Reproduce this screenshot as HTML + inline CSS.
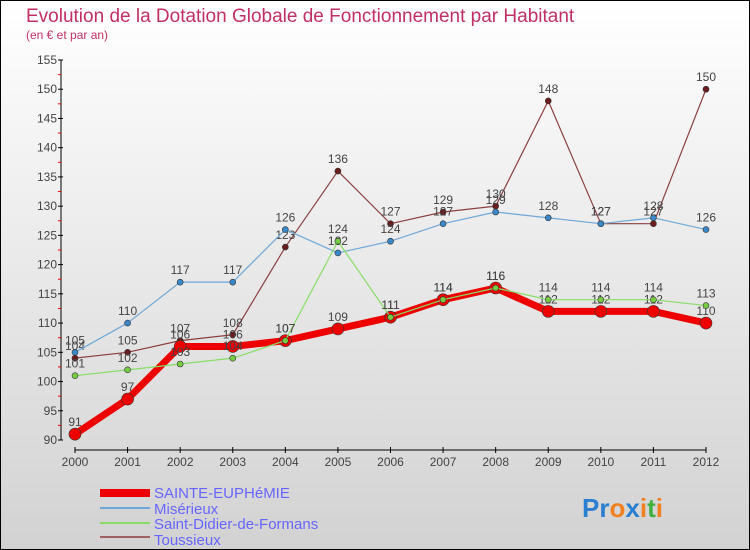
<!DOCTYPE html>
<html><head><meta charset="utf-8"><style>
body{margin:0;}
svg{display:block;font-family:"Liberation Sans",sans-serif;}
</style></head><body>
<svg id="c" width="750" height="550">
<defs><linearGradient id="bg" x1="0" y1="0" x2="0" y2="1"><stop offset="0" stop-color="#ffffff"/><stop offset="1" stop-color="#d2d2d2"/></linearGradient></defs>
<rect x="0.5" y="0.5" width="749" height="549" fill="url(#bg)" stroke="#000"/>
<text x="26" y="22" font-size="19" fill="#c03060">Evolution de la Dotation Globale de Fonctionnement par Habitant</text>
<text x="26" y="39" font-size="12" fill="#c03060">(en € et par an)</text>
<g id="axes"></g><g id="series"></g>
<g>
<rect x="100" y="489" width="50" height="8" fill="#e00"/>
<text x="154" y="498" font-size="15" fill="#6666ff">SAINTE-EUPHéMIE</text>
<line x1="100" y1="508" x2="150" y2="508" stroke="#6fa8d8" stroke-width="2"/>
<text x="154" y="514" font-size="15" fill="#6666ff">Misérieux</text>
<line x1="100" y1="523" x2="150" y2="523" stroke="#88dd66" stroke-width="2"/>
<text x="154" y="529" font-size="15" fill="#6666ff">Saint-Didier-de-Formans</text>
<line x1="100" y1="537" x2="150" y2="537" stroke="#a06060" stroke-width="2"/>
<text x="154" y="545" font-size="15" fill="#6666ff">Toussieux</text>
</g>
<text x="582" y="517" font-size="26" font-weight="bold"><tspan fill="#2a7fd0">Pr</tspan><tspan fill="#f08020">o</tspan><tspan fill="#2a7fd0">x</tspan><tspan fill="#f08020">i</tspan><tspan fill="#40b040">t</tspan><tspan fill="#f08020">i</tspan></text>
</svg>
<script>
const years=[2000,2001,2002,2003,2004,2005,2006,2007,2008,2009,2010,2011,2012];
const yTicks=[90,95,100,105,110,115,120,125,130,135,140,145,150,155];
const sainte=[91,97,106,106,107,109,111,114,116,112,112,112,110];
const miserieux=[105,110,117,117,126,122,124,127,129,128,127,128,126];
const saintDidier=[101,102,103,104,107,124,111,114,116,114,114,114,113];
const toussieux=[104,105,107,108,123,136,127,129,130,148,127,127,150];
const NS='http://www.w3.org/2000/svg';
const x=i=>75+i*(706-75)/12;
const y=v=>440-(v-90)*(380/65);
function mk(t,a,p){const e=document.createElementNS(NS,t);for(const k in a)e.setAttribute(k,a[k]);(p||document.getElementById('axes')).appendChild(e);return e;}
const ax=document.getElementById('axes');
let l=mk('line',{x1:61,y1:60,x2:61,y2:440,stroke:'#000'});

l=mk('line',{x1:75,y1:450,x2:706,y2:450,stroke:'#000'});

yTicks.forEach((v,i)=>{mk('line',{x1:58,y1:y(v),x2:63,y2:y(v),stroke:'#000'});
 if(i<yTicks.length-1)mk('line',{x1:58,y1:y(v+2.5),x2:61,y2:y(v+2.5),stroke:'#e00'});
 const t=mk('text',{x:57,y:y(v)+4,'font-size':12,fill:'#444','text-anchor':'end'});t.textContent=v;
 });
years.forEach((yr,i)=>{mk('line',{x1:x(i),y1:447,x2:x(i),y2:453,stroke:'#000'});
 const t=mk('text',{x:x(i),y:466,'font-size':12,fill:'#444','text-anchor':'middle'});t.textContent=yr;
 });
const sg=document.getElementById('series');
function draw(data,name,color,w,r,fill){const g=mk('g',{},sg);
 
 mk('polyline',{points:data.map((v,i)=>x(i)+','+y(v)).join(' '),fill:'none',stroke:color,'stroke-width':w,'stroke-linejoin':'round'},g);
 data.forEach((v,i)=>{const c=mk('circle',{cx:x(i),cy:y(v),r:r,fill:fill,stroke:'#333','stroke-width':0.6},g);
  
  const t=mk('text',{x:x(i),y:y(v)-8,'font-size':12,fill:'#444','text-anchor':'middle'},g);t.textContent=v;
  });}
draw(toussieux,'toussieux','#8b4040',1.2,3,'#6b1c1c');
draw(miserieux,'miserieux','#6fa8d8',1.2,3,'#3a88c8');
draw(sainte,'sainte-euphemie','#ee0000',7,6,'#ee0000');
draw(saintDidier,'saint-didier','#88dd66',1.2,3,'#77cc44');
</script>
</body></html>
